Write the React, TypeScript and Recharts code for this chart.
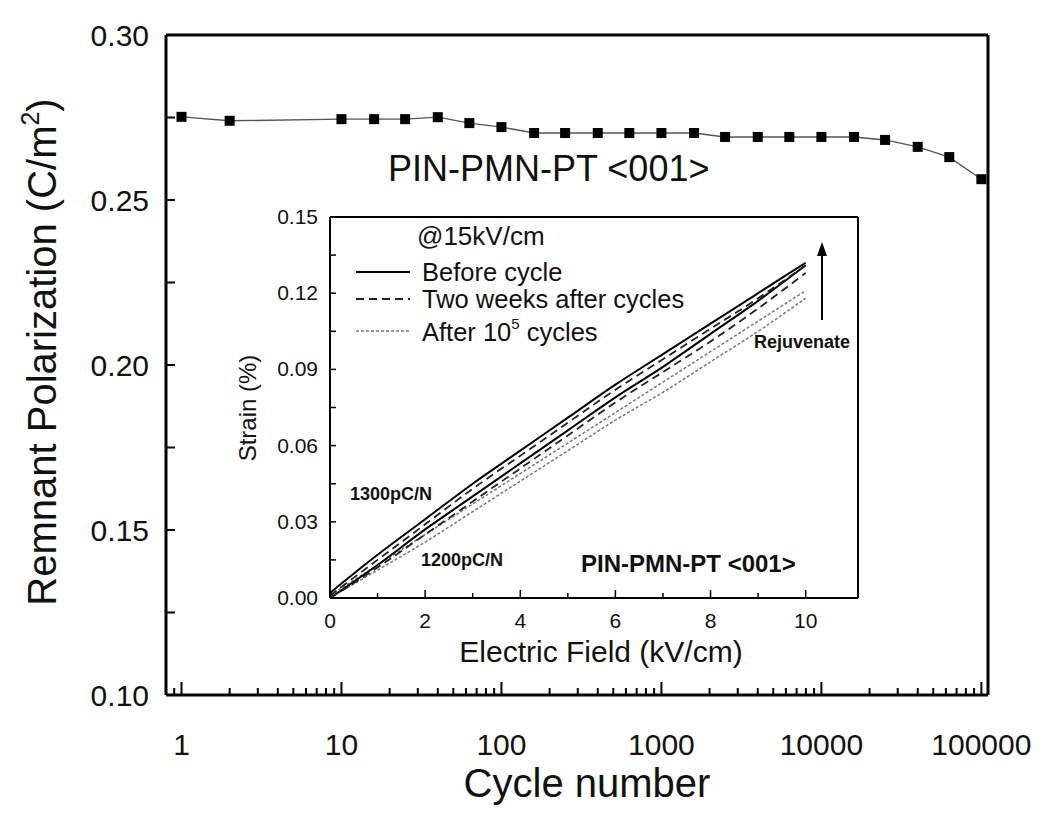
import React from 'react';
import { LineChart, Line, XAxis, YAxis, ReferenceLine } from 'recharts';

// main chart: remnant polarization vs cycle number
const cycles = [1, 2, 10, 16, 25, 40, 63, 100, 160, 250, 400, 630, 1000, 1600, 2500, 4000, 6300, 10000, 16000, 25000, 40000, 63000, 100000];
const polarization = [0.2752, 0.2740, 0.2745, 0.2745, 0.2745, 0.2751, 0.2733, 0.2721, 0.2703, 0.2703, 0.2703, 0.2703, 0.2703, 0.2703, 0.2691, 0.2691, 0.2691, 0.2691, 0.2691, 0.2682, 0.2661, 0.2630, 0.2563];

const cycleMajor = [1, 10, 100, 1000, 10000, 100000];
const cycleTicks = [0.9, 1, 2, 3, 4, 5, 6, 7, 8, 9, 10, 20, 30, 40, 50, 60, 70, 80, 90, 100, 200, 300, 400, 500, 600, 700, 800, 900, 1000, 2000, 3000, 4000, 5000, 6000, 7000, 8000, 9000, 10000, 20000, 30000, 40000, 50000, 60000, 70000, 80000, 90000, 100000];
const polTicks = [0.1, 0.125, 0.15, 0.175, 0.2, 0.225, 0.25, 0.275, 0.3];
const polMajor = [0.1, 0.15, 0.2, 0.25, 0.3];

// inset: strain loops
const field = [0, 1, 2, 3, 4, 5, 6, 7, 8, 9, 10];
const beforeUpper = [0.002, 0.017, 0.031, 0.045, 0.058, 0.071, 0.084, 0.096, 0.108, 0.120, 0.132];
const beforeLower = [0, 0.013, 0.027, 0.040, 0.053, 0.066, 0.079, 0.091, 0.104, 0.117, 0.131];
const weeksUpper = [0.001, 0.015, 0.029, 0.043, 0.056, 0.069, 0.082, 0.094, 0.106, 0.118, 0.131];
const weeksLower = [0, 0.012, 0.025, 0.038, 0.051, 0.064, 0.077, 0.089, 0.101, 0.114, 0.128];
const afterUpper = [0.001, 0.013, 0.025, 0.037, 0.049, 0.061, 0.073, 0.085, 0.097, 0.109, 0.121];
const afterLower = [0, 0.011, 0.022, 0.034, 0.046, 0.058, 0.070, 0.081, 0.093, 0.105, 0.118];

const fieldTicks = [0, 1, 2, 3, 4, 5, 6, 7, 8, 9, 10];
const strainTicks = [0, 0.015, 0.03, 0.045, 0.06, 0.075, 0.09, 0.105, 0.12, 0.135, 0.15];

const mainData = cycles.map((n, i) => ({ n, p: polarization[i] }));
const insetData = field.map((e, i) => ({
    e,
    bu: beforeUpper[i], bl: beforeLower[i],
    wu: weeksUpper[i], wl: weeksLower[i],
    au: afterUpper[i], al: afterLower[i],
}));

const FONT = '"Liberation Sans", Arial, sans-serif';

const MainXTick = (props: any) => {
    const { x, y, payload } = props;
    const major = cycleMajor.includes(payload.value);
    return (
        <g>
            <line x1={x} x2={x} y1={y} y2={y - (major ? 13 : 7)} stroke="#000" strokeWidth={2} />
            {major && (
                <text x={x} y={y + 60} textAnchor="middle" fontSize={30} fontFamily={FONT} fill="#111">
                    {payload.value}
                </text>
            )}
        </g>
    );
};

const MainYTick = (props: any) => {
    const { x, y, payload } = props;
    const major = polMajor.some(v => Math.abs(v - payload.value) < 1e-9);
    return (
        <g>
            <line x1={x} x2={x + 9} y1={y} y2={y} stroke="#000" strokeWidth={2} />
            {major && (
                <text x={x - 17} y={y + 11} textAnchor="end" fontSize={30} fontFamily={FONT} fill="#111">
                    {payload.value.toFixed(2)}
                </text>
            )}
        </g>
    );
};

const InsetXTick = (props: any) => {
    const { x, y, payload } = props;
    const major = payload.value % 2 === 0;
    return (
        <g>
            <line x1={x} x2={x} y1={y} y2={y - (major ? 8 : 5)} stroke="#000" strokeWidth={1.5} />
            {major && (
                <text x={x} y={y + 30} textAnchor="middle" fontSize={21} fontFamily={FONT} fill="#111">
                    {payload.value}
                </text>
            )}
        </g>
    );
};

const InsetYTick = (props: any) => {
    const { x, y, payload, index } = props;
    const major = index % 2 === 0;
    return (
        <g>
            <line x1={x} x2={x + 6} y1={y} y2={y} stroke="#000" strokeWidth={1.5} />
            {major && (
                <text x={x - 12} y={y + 7} textAnchor="end" fontSize={21} fontFamily={FONT} fill="#111">
                    {payload.value.toFixed(2)}
                </text>
            )}
        </g>
    );
};

const SquareDot = (props: any) => {
    const { cx, cy, index } = props;
    return <rect key={`sq-${index}`} x={cx - 5} y={cy - 5} width={10} height={10} fill="#000" />;
};

export default function App() {
    return (
        <div style={{ position: 'relative', width: 1050, height: 817, background: '#fff', fontFamily: FONT }}>
            <style>{'body{margin:0}'}</style>

            <div style={{ position: 'absolute', left: 0, top: 0 }}>
                <LineChart width={1050} height={817} data={mainData} margin={{ top: 35, right: 62, left: 86, bottom: 62 }}>
                    <XAxis
                        dataKey="n"
                        type="number"
                        scale="log"
                        domain={[0.8, 110000]}
                        allowDataOverflow
                        ticks={cycleTicks}
                        interval={0}
                        tickSize={0}
                        tickMargin={0}
                        tickLine={false}
                        height={60}
                        tick={<MainXTick />}
                        axisLine={{ stroke: '#000', strokeWidth: 3 }}
                    />
                    <YAxis
                        type="number"
                        domain={[0.1, 0.3]}
                        ticks={polTicks}
                        interval={0}
                        tickSize={0}
                        tickMargin={0}
                        tickLine={false}
                        width={80}
                        tick={<MainYTick />}
                        axisLine={{ stroke: '#000', strokeWidth: 3 }}
                    />
                    {/* frame top and right */}
                    <ReferenceLine y={0.3} stroke="#000" strokeWidth={3} />
                    <ReferenceLine x={110000} stroke="#000" strokeWidth={3} />
                    <Line
                        dataKey="p"
                        type="linear"
                        stroke="#555"
                        strokeWidth={1.4}
                        dot={SquareDot}
                        activeDot={false}
                        isAnimationActive={false}
                    />
                </LineChart>
            </div>

            <div style={{ position: 'absolute', left: 230, top: 200 }}>
                <LineChart width={660} height={480} data={insetData} margin={{ top: 17, right: 32, left: 40, bottom: 42 }}>
                    <XAxis
                        dataKey="e"
                        type="number"
                        domain={[0, 11.1]}
                        allowDataOverflow
                        ticks={fieldTicks}
                        interval={0}
                        tickSize={0}
                        tickMargin={0}
                        tickLine={false}
                        height={40}
                        tick={<InsetXTick />}
                        axisLine={{ stroke: '#000', strokeWidth: 2 }}
                    />
                    <YAxis
                        type="number"
                        domain={[0, 0.15]}
                        ticks={strainTicks}
                        interval={0}
                        tickSize={0}
                        tickMargin={0}
                        tickLine={false}
                        width={60}
                        tick={<InsetYTick />}
                        axisLine={{ stroke: '#000', strokeWidth: 2 }}
                    />
                    <ReferenceLine y={0.15} stroke="#000" strokeWidth={2} />
                    <ReferenceLine x={11.1} stroke="#000" strokeWidth={2} />
                    <Line dataKey="au" type="monotone" stroke="#777" strokeWidth={1.5} strokeDasharray="3 2" dot={false} isAnimationActive={false} />
                    <Line dataKey="al" type="monotone" stroke="#777" strokeWidth={1.5} strokeDasharray="3 2" dot={false} isAnimationActive={false} />
                    <Line dataKey="bu" type="monotone" stroke="#000" strokeWidth={2} dot={false} isAnimationActive={false} />
                    <Line dataKey="bl" type="monotone" stroke="#000" strokeWidth={2} dot={false} isAnimationActive={false} />
                    <Line dataKey="wu" type="monotone" stroke="#222" strokeWidth={1.8} strokeDasharray="8 5" dot={false} isAnimationActive={false} />
                    <Line dataKey="wl" type="monotone" stroke="#222" strokeWidth={1.8} strokeDasharray="8 5" dot={false} isAnimationActive={false} />
                </LineChart>
            </div>

            <svg width={1050} height={817} style={{ position: 'absolute', left: 0, top: 0, pointerEvents: 'none' }} fontFamily={FONT} fill="#111">
                {/* main titles */}
                <text transform="translate(42,352) rotate(-90)" y={14} textAnchor="middle" fontSize={40}>
                    Remnant Polarization (C/m<tspan fontSize={25} dy={-17}>2</tspan><tspan dy={17}>)</tspan>
                </text>
                <text x={587} y={797} textAnchor="middle" fontSize={40}>Cycle number</text>
                <text x={388} y={181} fontSize={36}>PIN-PMN-PT &lt;001&gt;</text>

                {/* inset titles */}
                <text transform="translate(247,408) rotate(-90)" y={9} textAnchor="middle" fontSize={24}>Strain (%)</text>
                <text x={601} y={662} textAnchor="middle" fontSize={30}>Electric Field (kV/cm)</text>

                {/* inset legend */}
                <text x={417} y={245} fontSize={26}>@15kV/cm</text>
                <line x1={356} x2={410} y1={272} y2={272} stroke="#000" strokeWidth={2} />
                <line x1={356} x2={410} y1={299} y2={299} stroke="#222" strokeWidth={1.8} strokeDasharray="8 5" />
                <line x1={356} x2={410} y1={331} y2={331} stroke="#777" strokeWidth={1.5} strokeDasharray="3 2" />
                <text x={422} y={281} fontSize={25.5}>Before cycle</text>
                <text x={422} y={308} fontSize={25.5}>Two weeks after cycles</text>
                <text x={422} y={341} fontSize={25.5}>After 10<tspan fontSize={15} dy={-12}>5</tspan><tspan dy={12}> cycles</tspan></text>

                {/* annotations */}
                <line x1={822} x2={822} y1={320} y2={252} stroke="#000" strokeWidth={2} />
                <polygon points="822,242 817,256 827,256" fill="#000" />
                <text x={802} y={348} textAnchor="middle" fontSize={18} fontWeight="bold">Rejuvenate</text>
                <text x={350} y={500} fontSize={18} fontWeight="bold">1300pC/N</text>
                <text x={421} y={566} fontSize={18} fontWeight="bold">1200pC/N</text>
                <text x={581} y={572} fontSize={24} fontWeight="bold">PIN-PMN-PT &lt;001&gt;</text>
            </svg>
        </div>
    );
}
